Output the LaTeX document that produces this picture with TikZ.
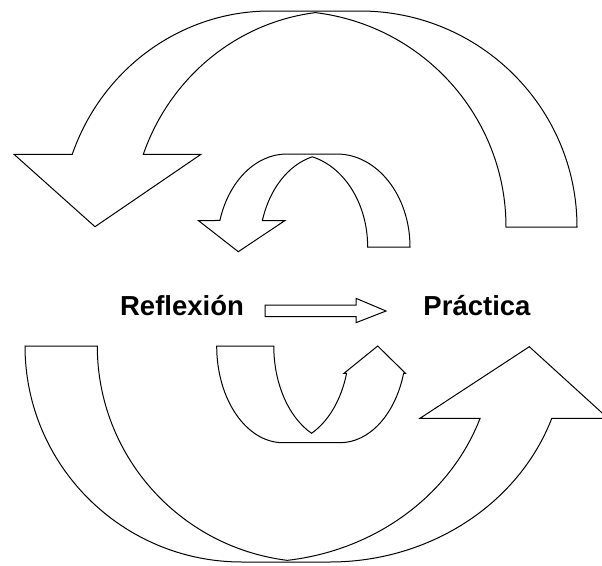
\documentclass[tikz,border=0pt]{standalone}
\usepackage{fontspec}
\setmainfont{Liberation Sans}
\begin{document}
\begin{tikzpicture}[x=1pt, y=1pt,
  band/.style={draw=black, line width=1pt, line join=miter, fill=white},
  word/.style={font=\fontsize{27.5}{32}\selectfont\bfseries, inner sep=0pt, anchor=base}]
  \useasboundingbox (0,0) rectangle (602,-565);

  % big arrow on top
  \draw[band] (577,-227) arc[start angle=0, end angle=90, x radius=217pt, y radius=216pt]
    -- (270,-11) arc[start angle=90, end angle=160.33, x radius=210pt, y radius=216pt]
    -- (14,-154.3) -- (95,-226.7) -- (201,-154.3) -- (143.3,-154.3)
    arc[start angle=160.33, end angle=97, x radius=210pt, y radius=216pt]
    arc[start angle=83, end angle=0, x radius=217pt, y radius=216pt] -- cycle;

  % small arrow on top
  \draw[band] (410,-247) arc[start angle=0, end angle=90, x radius=73.3pt, y radius=93pt]
    -- (286.7,-154) arc[start angle=90, end angle=163.44, x radius=69.7pt, y radius=93pt]
    -- (198.3,-220.5) -- (238.3,-251.7) -- (285,-220.5) -- (262.4,-220.5)
    arc[start angle=163.44, end angle=104.1, x radius=69.7pt, y radius=93pt]
    arc[start angle=75.9, end angle=0, x radius=73.3pt, y radius=93pt] -- cycle;

  % labels
  \node[word] (refl) at (182,-315) {Reflexión};
  \node[word] (prac) at (477,-315) {Práctica};
  \draw[band] (265,-305) -- (356,-305) -- (356,-298.3) -- (386,-311)
    -- (356,-322.7) -- (356,-316.7) -- (265,-316.7) -- cycle;

  % small arrow at the bottom
  \draw[band] (216.7,-346) arc[start angle=180, end angle=270, x radius=66.3pt, y radius=96.7pt]
    -- (340,-442.7) arc[start angle=270, end angle=343.6, x radius=66.3pt, y radius=96.7pt]
    -- (405.5,-373.3) -- (377.7,-346) -- (344,-373.3) -- (346.6,-373.3)
    arc[start angle=343.6, end angle=295.5, x radius=66.3pt, y radius=96.7pt]
    arc[start angle=244.5, end angle=180, x radius=66.3pt, y radius=96.7pt] -- cycle;

  % big arrow at the bottom
  \draw[band] (25,-346) arc[start angle=180, end angle=270, x radius=217pt, y radius=216pt]
    -- (329.7,-562) arc[start angle=270, end angle=340.45, x radius=235.7pt, y radius=216pt]
    -- (608,-418.3) -- (529.3,-346.7) -- (420,-418.3) -- (480.1,-418.3)
    arc[start angle=340.45, end angle=277.14, x radius=235.7pt, y radius=216pt]
    arc[start angle=262.85, end angle=180, x radius=217pt, y radius=216pt] -- cycle;
\end{tikzpicture}
\end{document}
